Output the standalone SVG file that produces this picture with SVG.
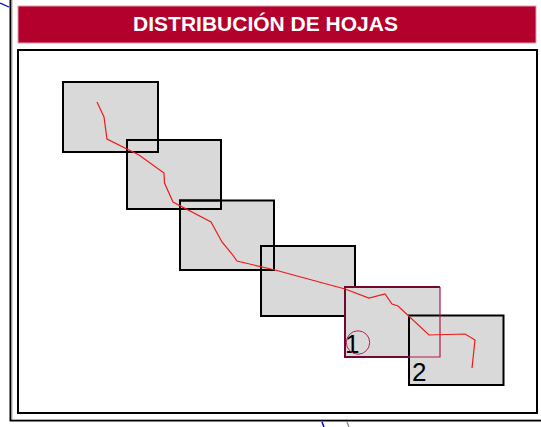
<svg xmlns="http://www.w3.org/2000/svg" width="541" height="427" viewBox="0 0 541 427">
<style>
.sheet{fill:#d9d9d9;stroke:#000;stroke-width:2}
.frame{fill:none;stroke:#000;stroke-width:2}
.lbl{font-family:"Liberation Sans",Arial,sans-serif;font-size:26px;fill:#000}
</style>
<rect width="541" height="427" fill="#fff"/>
<path d="M0 3L9 7" fill="none" stroke="#0000e0" stroke-width="1.2"/>
<path d="M322 422L324 427" fill="none" stroke="#0000e0" stroke-width="1.500"/>
<path d="M347 422L349 427" fill="none" stroke="#808080" stroke-width="1.200"/>
<g id="outer-frame"><path class="frame" d="M10.500 0V420.500H541"/><path d="M12 0V419.500H541" stroke="#aaa" fill="none"/></g>
<g id="title"><rect x="18" y="6" width="518" height="37" fill="#b3002d" stroke="#e0a0b0" stroke-width="1"/>
<text x="265.500" y="31" text-anchor="middle" font-family="'Liberation Sans',Arial,sans-serif" font-weight="700" font-size="21px" fill="#fff">DISTRIBUCIÓN DE HOJAS</text></g>
<g id="inner-frame"><rect x="18" y="50" width="519" height="363" class="frame"/></g>
<g id="sheet-a"><rect class="sheet" x="63" y="82" width="95" height="70"/></g>
<g id="sheet-b"><rect class="sheet" x="127" y="140" width="94" height="69"/></g>
<path class="frame" d="M127 140H158V152H127Z"/>
<g id="sheet-c"><rect class="sheet" x="180" y="200.500" width="94" height="69.500"/></g>
<path class="frame" d="M180 200.500H221V209H180Z"/>
<g id="sheet-d"><rect class="sheet" x="261" y="246" width="94" height="70"/></g>
<path class="frame" d="M261 246H274V270H261Z"/>
<g id="sheet-1"><rect x="345" y="287" width="95" height="70" fill="#d9d9d9" stroke="none"/></g>
<g id="sheet-2"><rect class="sheet" x="409" y="315.500" width="94.500" height="69.500"/><text class="lbl" x="412" y="381">2</text></g>
<g id="sheet-1-outline"><path d="M409 357H345V287H440" stroke="#70082f" stroke-width="2" fill="none"/><path d="M440 287V357H409" stroke="#b81848" stroke-width="1.200" fill="none"/><text class="lbl" x="345" y="353">1</text><circle cx="358" cy="342.500" r="11.700" fill="none" stroke="#b82050" stroke-width="1"/></g>
<g id="connectors"><polyline fill="none" stroke="#f01818" stroke-width="1.200" points="97,102 104,117 107,139 139,155 164,173 164.500,183 173,202 211,222 222,242 232,254 237,261 275,270 345,289 369,298 385,294 392,304 398,306 429,335 465,334 475,340 472,368"/></g>
</svg>
